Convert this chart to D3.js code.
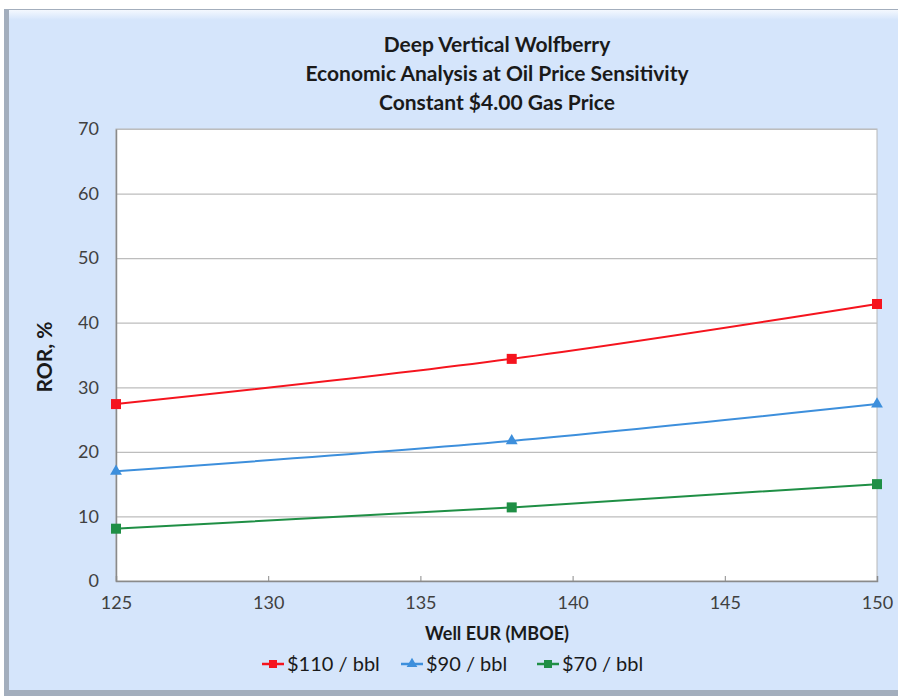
<!DOCTYPE html>
<html>
<head>
<meta charset="utf-8">
<script src="https://cdn.jsdelivr.net/npm/d3@7"></script>
<style>
  body { margin: 0; background: #fff; }
  svg { display: block; }
</style>
</head>
<body>
<div id="chart"></div>
<script>
// chart data
var titleLines = ["Deep Vertical Wolfberry", "Economic Analysis at Oil Price Sensitivity", "Constant $4.00 Gas Price"];
var wellEUR = [125, 138, 150];
var ror110 = [27.4, 34.4, 42.9];
var ror90 = [17.0, 21.7, 27.4];
var ror70 = [8.1, 11.4, 15.0];
var seriesNames = ["$110 / bbl", "$90 / bbl", "$70 / bbl"];
var xTicks = [125, 130, 135, 140, 145, 150];
var yTicks = [0, 10, 20, 30, 40, 50, 60, 70];

var series = [
  {name: seriesNames[0], values: ror110, color: "#f5141e", marker: "square"},
  {name: seriesNames[1], values: ror90, color: "#3d8fdc", marker: "triangle"},
  {name: seriesNames[2], values: ror70, color: "#1f8f45", marker: "square"}
];

var W = 898, H = 697;
var plot = {left: 116, right: 877, top: 129, bottom: 581};
var font = "Lato, 'Open Sans', sans-serif";

var svg = d3.select("#chart").append("svg")
  .attr("width", W).attr("height", H)
  .style("font-family", font);

// outer frame
var defs = svg.append("defs");
var grad = defs.append("linearGradient").attr("id", "topglow").attr("x1", 0).attr("y1", 0).attr("x2", 0).attr("y2", 1);
grad.append("stop").attr("offset", "0%").attr("stop-color", "#f4f8fe");
grad.append("stop").attr("offset", "100%").attr("stop-color", "#d5e5fb");

svg.append("rect").attr("x", 4).attr("y", 9).attr("width", W - 4).attr("height", 687)
  .attr("fill", "#a3aebd");
svg.append("rect").attr("x", 9).attr("y", 10).attr("width", W - 9).attr("height", 680)
  .attr("fill", "#d5e5fb");
svg.append("rect").attr("x", 9).attr("y", 10).attr("width", W - 9).attr("height", 10)
  .attr("fill", "url(#topglow)");

// title
svg.append("g").selectAll("text")
  .data(titleLines)
  .enter().append("text")
  .attr("x", 497)
  .attr("y", function(d, i) { return 52 + i * 29; })
  .attr("text-anchor", "middle")
  .style("font-size", "21px")
  .style("font-weight", "bold")
  .style("fill", "#1a1a1a")
  .text(function(d) { return d; });

// scales
var x = d3.scaleLinear().domain([125, 150]).range([plot.left, plot.right]);
var y = d3.scaleLinear().domain([0, 70]).range([plot.bottom, plot.top]);

// plot area
svg.append("rect")
  .attr("x", plot.left).attr("y", plot.top)
  .attr("width", plot.right - plot.left).attr("height", plot.bottom - plot.top)
  .attr("fill", "#fff")
  .attr("stroke", "#b8b8b8");

// gridlines
svg.append("g")
  .attr("transform", "translate(" + plot.left + ",0)")
  .call(d3.axisLeft(y).tickValues(yTicks).tickSize(-(plot.right - plot.left)).tickFormat(""))
  .call(function(g) {
    g.select(".domain").remove();
    g.selectAll("line").attr("stroke", "#bdbdbd").attr("stroke-width", 1.2);
  });

// y axis
svg.append("g")
  .attr("transform", "translate(" + plot.left + ",0)")
  .call(d3.axisLeft(y).tickValues(yTicks).tickSize(0).tickPadding(17))
  .call(function(g) {
    g.select(".domain").attr("stroke", "#8a8a8a").attr("stroke-width", 1.5);
    g.selectAll("text").style("font-size", "18px").style("font-family", font).style("fill", "#404040");
  });

// x axis
svg.append("g")
  .attr("transform", "translate(0," + plot.bottom + ")")
  .call(d3.axisTop(x).tickValues(xTicks).tickSize(5).tickFormat(""))
  .call(function(g) {
    g.select(".domain").attr("stroke", "#8a8a8a").attr("stroke-width", 1.5);
    g.selectAll("line").attr("stroke", "#8a8a8a");
  });
svg.append("g")
  .attr("transform", "translate(0," + plot.bottom + ")")
  .call(d3.axisBottom(x).tickValues(xTicks).tickSize(0).tickPadding(15))
  .call(function(g) {
    g.select(".domain").remove();
    g.selectAll("text").style("font-size", "18px").style("font-family", font).style("fill", "#404040");
  });

// axis titles
svg.append("text")
  .attr("x", 497).attr("y", 640)
  .attr("text-anchor", "middle")
  .style("font-size", "18px").style("font-weight", "bold").style("fill", "#1a1a1a")
  .text("Well EUR (MBOE)");
svg.append("text")
  .attr("transform", "translate(52,357) rotate(-90)")
  .attr("text-anchor", "middle")
  .style("font-size", "21px").style("font-weight", "bold").style("fill", "#1a1a1a")
  .text("ROR, %");

// lines
var line = d3.line()
  .curve(d3.curveMonotoneX)
  .x(function(d, i) { return x(wellEUR[i]); })
  .y(function(d) { return y(d); });

function drawMarker(g, type, color, size) {
  if (type == "square") {
    g.append("rect").attr("x", -size / 2).attr("y", -size / 2)
      .attr("width", size).attr("height", size).attr("fill", color);
  } else {
    g.append("path").attr("d", d3.symbol().type(d3.symbolTriangle).size(size * size * 0.5)())
      .attr("fill", color);
  }
}

series.forEach(function(s) {
  svg.append("path")
    .datum(s.values)
    .attr("d", line)
    .attr("fill", "none")
    .attr("stroke", s.color)
    .attr("stroke-width", 2);
  s.values.forEach(function(v, i) {
    var m = svg.append("g").attr("transform", "translate(" + x(wellEUR[i]) + "," + y(v) + ")");
    drawMarker(m, s.marker, s.color, s.marker == "square" ? 10 : 11);
  });
});

// legend
var legendX = [262, 401, 537];
var legend = svg.append("g").attr("transform", "translate(0,664)");
series.forEach(function(s, i) {
  var g = legend.append("g").attr("transform", "translate(" + legendX[i] + ",0)");
  g.append("line").attr("x1", 0).attr("x2", 22).attr("y1", 0).attr("y2", 0)
    .attr("stroke", s.color).attr("stroke-width", 2.5);
  var m = g.append("g").attr("transform", "translate(11,0)");
  drawMarker(m, s.marker, s.color, s.marker == "square" ? 8 : 10);
  g.append("text").attr("x", 25).attr("y", 7)
    .style("font-size", "20px").style("fill", "#1a1a1a")
    .text(s.name);
});
</script>
</body>
</html>
